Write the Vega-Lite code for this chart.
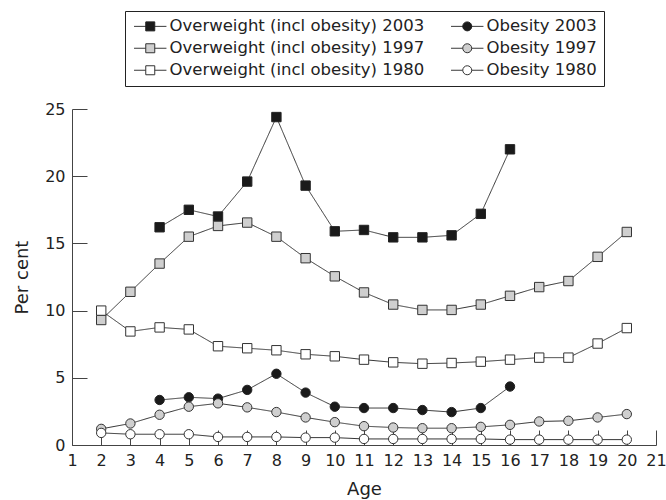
{
  "$schema": "https://vega.github.io/schema/vega-lite/v6.json",
  "width": 584,
  "height": 336,
  "autosize": {"type": "none"},
  "padding": {"left": 72, "top": 109, "right": 10, "bottom": 55},
  "background": "white",
  "config": {
    "view": {"stroke": null},
    "font": "DejaVu Sans",
    "axis": {
      "domainColor": "#444",
      "tickColor": "#444",
      "labelColor": "#222",
      "titleColor": "#222",
      "labelFont": "DejaVu Sans",
      "titleFont": "DejaVu Sans",
      "labelFontSize": 16,
      "titleFontSize": 18,
      "titleFontWeight": "normal",
      "grid": false,
      "tickSize": -15,
      "labelFlush": false,
      "labelOverlap": false
    },
    "legend": {
      "title": null,
      "orient": "none",
      "legendX": 53,
      "legendY": -98,
      "columns": 2,
      "direction": "vertical",
      "padding": 7,
      "rowPadding": 5,
      "columnPadding": 24,
      "symbolSize": 81,
      "symbolOffset": 10,
      "symbolStrokeWidth": 1,
      "symbolOpacity": 1,
      "labelFont": "DejaVu Sans",
      "labelFontSize": 16.5,
      "labelOffset": 11,
      "labelLimit": 400
    }
  },
  "data": {
    "values": [
      {"age": 4, "value": 16.2, "series": "Overweight (incl obesity) 2003"},
      {"age": 5, "value": 17.5, "series": "Overweight (incl obesity) 2003"},
      {"age": 6, "value": 17.0, "series": "Overweight (incl obesity) 2003"},
      {"age": 7, "value": 19.6, "series": "Overweight (incl obesity) 2003"},
      {"age": 8, "value": 24.4, "series": "Overweight (incl obesity) 2003"},
      {"age": 9, "value": 19.3, "series": "Overweight (incl obesity) 2003"},
      {"age": 10, "value": 15.9, "series": "Overweight (incl obesity) 2003"},
      {"age": 11, "value": 16.0, "series": "Overweight (incl obesity) 2003"},
      {"age": 12, "value": 15.45, "series": "Overweight (incl obesity) 2003"},
      {"age": 13, "value": 15.45, "series": "Overweight (incl obesity) 2003"},
      {"age": 14, "value": 15.6, "series": "Overweight (incl obesity) 2003"},
      {"age": 15, "value": 17.2, "series": "Overweight (incl obesity) 2003"},
      {"age": 16, "value": 22.0, "series": "Overweight (incl obesity) 2003"},

      {"age": 2, "value": 9.3, "series": "Overweight (incl obesity) 1997"},
      {"age": 3, "value": 11.4, "series": "Overweight (incl obesity) 1997"},
      {"age": 4, "value": 13.5, "series": "Overweight (incl obesity) 1997"},
      {"age": 5, "value": 15.5, "series": "Overweight (incl obesity) 1997"},
      {"age": 6, "value": 16.3, "series": "Overweight (incl obesity) 1997"},
      {"age": 7, "value": 16.55, "series": "Overweight (incl obesity) 1997"},
      {"age": 8, "value": 15.5, "series": "Overweight (incl obesity) 1997"},
      {"age": 9, "value": 13.9, "series": "Overweight (incl obesity) 1997"},
      {"age": 10, "value": 12.55, "series": "Overweight (incl obesity) 1997"},
      {"age": 11, "value": 11.35, "series": "Overweight (incl obesity) 1997"},
      {"age": 12, "value": 10.45, "series": "Overweight (incl obesity) 1997"},
      {"age": 13, "value": 10.05, "series": "Overweight (incl obesity) 1997"},
      {"age": 14, "value": 10.05, "series": "Overweight (incl obesity) 1997"},
      {"age": 15, "value": 10.45, "series": "Overweight (incl obesity) 1997"},
      {"age": 16, "value": 11.1, "series": "Overweight (incl obesity) 1997"},
      {"age": 17, "value": 11.75, "series": "Overweight (incl obesity) 1997"},
      {"age": 18, "value": 12.2, "series": "Overweight (incl obesity) 1997"},
      {"age": 19, "value": 14.0, "series": "Overweight (incl obesity) 1997"},
      {"age": 20, "value": 15.85, "series": "Overweight (incl obesity) 1997"},

      {"age": 2, "value": 10.0, "series": "Overweight (incl obesity) 1980"},
      {"age": 3, "value": 8.45, "series": "Overweight (incl obesity) 1980"},
      {"age": 4, "value": 8.75, "series": "Overweight (incl obesity) 1980"},
      {"age": 5, "value": 8.6, "series": "Overweight (incl obesity) 1980"},
      {"age": 6, "value": 7.35, "series": "Overweight (incl obesity) 1980"},
      {"age": 7, "value": 7.2, "series": "Overweight (incl obesity) 1980"},
      {"age": 8, "value": 7.05, "series": "Overweight (incl obesity) 1980"},
      {"age": 9, "value": 6.75, "series": "Overweight (incl obesity) 1980"},
      {"age": 10, "value": 6.6, "series": "Overweight (incl obesity) 1980"},
      {"age": 11, "value": 6.35, "series": "Overweight (incl obesity) 1980"},
      {"age": 12, "value": 6.15, "series": "Overweight (incl obesity) 1980"},
      {"age": 13, "value": 6.05, "series": "Overweight (incl obesity) 1980"},
      {"age": 14, "value": 6.1, "series": "Overweight (incl obesity) 1980"},
      {"age": 15, "value": 6.2, "series": "Overweight (incl obesity) 1980"},
      {"age": 16, "value": 6.35, "series": "Overweight (incl obesity) 1980"},
      {"age": 17, "value": 6.5, "series": "Overweight (incl obesity) 1980"},
      {"age": 18, "value": 6.5, "series": "Overweight (incl obesity) 1980"},
      {"age": 19, "value": 7.55, "series": "Overweight (incl obesity) 1980"},
      {"age": 20, "value": 8.7, "series": "Overweight (incl obesity) 1980"},

      {"age": 4, "value": 3.35, "series": "Obesity 2003"},
      {"age": 5, "value": 3.55, "series": "Obesity 2003"},
      {"age": 6, "value": 3.45, "series": "Obesity 2003"},
      {"age": 7, "value": 4.1, "series": "Obesity 2003"},
      {"age": 8, "value": 5.3, "series": "Obesity 2003"},
      {"age": 9, "value": 3.9, "series": "Obesity 2003"},
      {"age": 10, "value": 2.85, "series": "Obesity 2003"},
      {"age": 11, "value": 2.75, "series": "Obesity 2003"},
      {"age": 12, "value": 2.75, "series": "Obesity 2003"},
      {"age": 13, "value": 2.6, "series": "Obesity 2003"},
      {"age": 14, "value": 2.45, "series": "Obesity 2003"},
      {"age": 15, "value": 2.75, "series": "Obesity 2003"},
      {"age": 16, "value": 4.35, "series": "Obesity 2003"},

      {"age": 2, "value": 1.2, "series": "Obesity 1997"},
      {"age": 3, "value": 1.6, "series": "Obesity 1997"},
      {"age": 4, "value": 2.25, "series": "Obesity 1997"},
      {"age": 5, "value": 2.85, "series": "Obesity 1997"},
      {"age": 6, "value": 3.1, "series": "Obesity 1997"},
      {"age": 7, "value": 2.8, "series": "Obesity 1997"},
      {"age": 8, "value": 2.45, "series": "Obesity 1997"},
      {"age": 9, "value": 2.05, "series": "Obesity 1997"},
      {"age": 10, "value": 1.7, "series": "Obesity 1997"},
      {"age": 11, "value": 1.4, "series": "Obesity 1997"},
      {"age": 12, "value": 1.3, "series": "Obesity 1997"},
      {"age": 13, "value": 1.25, "series": "Obesity 1997"},
      {"age": 14, "value": 1.25, "series": "Obesity 1997"},
      {"age": 15, "value": 1.35, "series": "Obesity 1997"},
      {"age": 16, "value": 1.5, "series": "Obesity 1997"},
      {"age": 17, "value": 1.75, "series": "Obesity 1997"},
      {"age": 18, "value": 1.8, "series": "Obesity 1997"},
      {"age": 19, "value": 2.05, "series": "Obesity 1997"},
      {"age": 20, "value": 2.3, "series": "Obesity 1997"},

      {"age": 2, "value": 0.9, "series": "Obesity 1980"},
      {"age": 3, "value": 0.8, "series": "Obesity 1980"},
      {"age": 4, "value": 0.8, "series": "Obesity 1980"},
      {"age": 5, "value": 0.8, "series": "Obesity 1980"},
      {"age": 6, "value": 0.6, "series": "Obesity 1980"},
      {"age": 7, "value": 0.6, "series": "Obesity 1980"},
      {"age": 8, "value": 0.6, "series": "Obesity 1980"},
      {"age": 9, "value": 0.55, "series": "Obesity 1980"},
      {"age": 10, "value": 0.55, "series": "Obesity 1980"},
      {"age": 11, "value": 0.45, "series": "Obesity 1980"},
      {"age": 12, "value": 0.45, "series": "Obesity 1980"},
      {"age": 13, "value": 0.45, "series": "Obesity 1980"},
      {"age": 14, "value": 0.45, "series": "Obesity 1980"},
      {"age": 15, "value": 0.45, "series": "Obesity 1980"},
      {"age": 16, "value": 0.4, "series": "Obesity 1980"},
      {"age": 17, "value": 0.4, "series": "Obesity 1980"},
      {"age": 18, "value": 0.4, "series": "Obesity 1980"},
      {"age": 19, "value": 0.4, "series": "Obesity 1980"},
      {"age": 20, "value": 0.4, "series": "Obesity 1980"}
    ]
  },
  "encoding": {
    "x": {
      "field": "age", "type": "quantitative",
      "scale": {"domain": [1, 21], "nice": false, "zero": false},
      "axis": {
        "title": "Age",
        "values": [1,2,3,4,5,6,7,8,9,10,11,12,13,14,15,16,17,18,19,20,21],
        "labelPadding": 22,
        "titlePadding": 12,
        "labelAngle": 0
      }
    },
    "y": {
      "field": "value", "type": "quantitative",
      "scale": {"domain": [0, 25], "nice": false},
      "axis": {
        "title": "Per cent",
        "values": [0, 5, 10, 15, 20, 25],
        "labelPadding": 22,
        "titlePadding": 13
      }
    }
  },
  "layer": [
    {
      "mark": {"type": "line", "color": "#333", "strokeWidth": 1},
      "encoding": {
        "strokeDash": {
          "field": "series", "type": "nominal",
          "sort": ["Overweight (incl obesity) 2003", "Overweight (incl obesity) 1997", "Overweight (incl obesity) 1980", "Obesity 2003", "Obesity 1997", "Obesity 1980"],
          "scale": {"range": [[1, 0], [1, 0], [1, 0], [1, 0], [1, 0], [1, 0]]},
          "legend": {
            "symbolType": "M-3.6,0H3.6",
            "symbolStrokeColor": "#333",
            "symbolStrokeWidth": 1,
            "symbolDash": [1, 0],
            "labelColor": "transparent"
          }
        }
      }
    },
    {
      "mark": {"type": "point", "opacity": 1, "strokeWidth": 1, "size": 88},
      "encoding": {
        "fill": {
          "field": "series", "type": "nominal",
          "scale": {
            "domain": ["Overweight (incl obesity) 2003", "Overweight (incl obesity) 1997", "Overweight (incl obesity) 1980", "Obesity 2003", "Obesity 1997", "Obesity 1980"],
            "range": ["#1a1a1a", "#cfcfcf", "#ffffff", "#1a1a1a", "#cfcfcf", "#ffffff"]
          },
          "legend": {
            "strokeColor": "#222",
            "labelColor": "#222"
          }
        },
        "stroke": {
          "field": "series", "type": "nominal",
          "scale": {
            "domain": ["Overweight (incl obesity) 2003", "Overweight (incl obesity) 1997", "Overweight (incl obesity) 1980", "Obesity 2003", "Obesity 1997", "Obesity 1980"],
            "range": ["#222222", "#333333", "#333333", "#222222", "#333333", "#333333"]
          },
          "legend": {
            "strokeColor": "#222",
            "labelColor": "#222"
          }
        },
        "shape": {
          "field": "series", "type": "nominal",
          "scale": {
            "domain": ["Overweight (incl obesity) 2003", "Overweight (incl obesity) 1997", "Overweight (incl obesity) 1980", "Obesity 2003", "Obesity 1997", "Obesity 1980"],
            "range": ["square", "square", "square", "circle", "circle", "circle"]
          },
          "legend": {
            "strokeColor": "#222",
            "labelColor": "#222"
          }
        }
      }
    }
  ]
}
